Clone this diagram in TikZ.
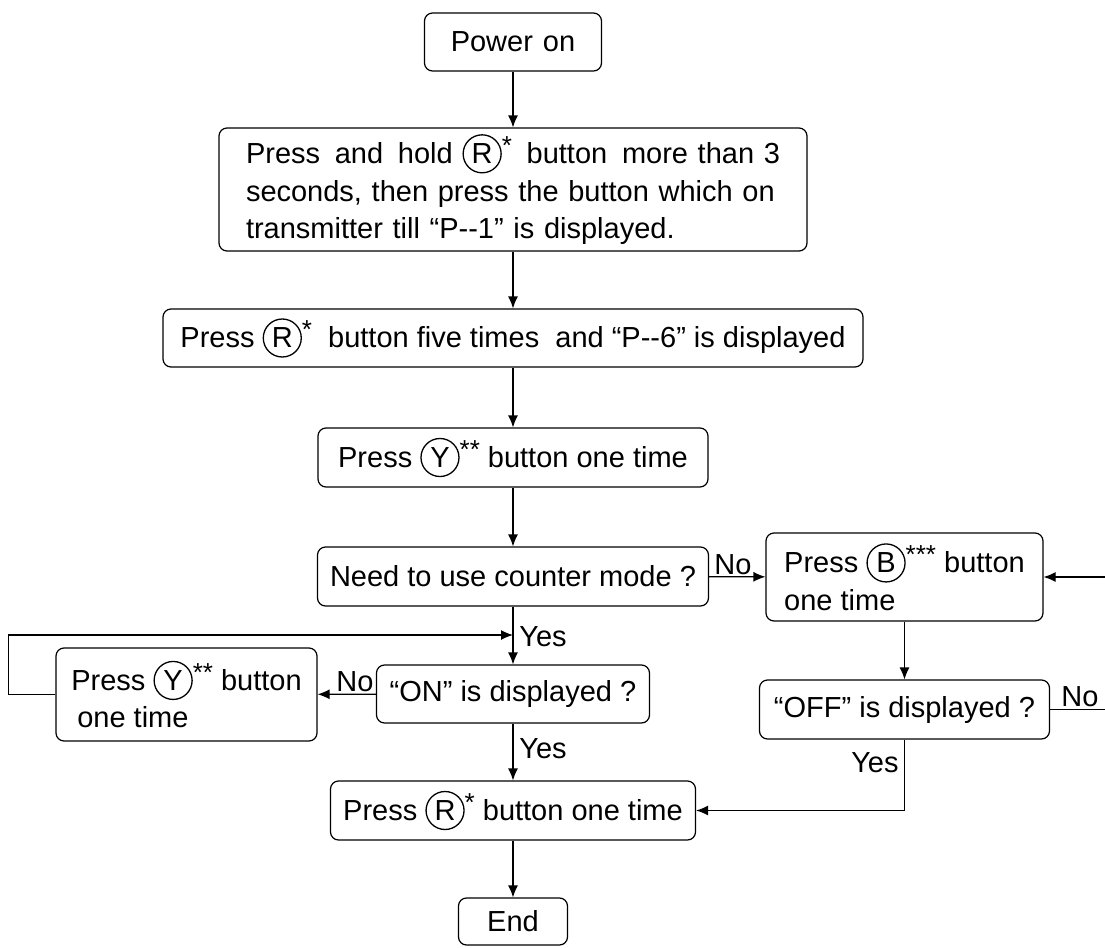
\documentclass[tikz,border=0pt]{standalone}
\usepackage{fontspec}
\setmainfont{Liberation Sans}
\usetikzlibrary{arrows.meta}

\newcommand{\btn}[1]{\tikz[baseline=(btnc.base)]\node[draw,circle,line width=0.65pt,inner sep=0pt,minimum size=19pt](btnc){#1};}
\newcommand{\stars}[1]{\raisebox{4.5pt}{\fontsize{13}{13}\selectfont #1}}

\begin{document}
\begin{tikzpicture}[x=0.5pt,y=-0.5pt,
	box/.style 2 args = {draw, rounded corners=4pt, line width=0.6pt, inner sep=0pt,
		minimum width=#1pt, minimum height=#2pt, align=center,
		font=\fontsize{14.5}{18.75}\selectfont},
	arr/.style = {line width=0.6pt, -{Latex[length=6pt,width=5pt]}},
	lbl/.style = {inner sep=1pt, font=\fontsize{14.5}{17}\selectfont}]

	\useasboundingbox (0,0) rectangle (1105,948);

	\def \mx {513}
	\def \rx {904.5}

	% main column
	\node[box={88.5}{29}] (power) at (\mx,42) {Power\hspace{5pt}on};
	\node[box={294}{61.5}, align=left, text width=267pt] (hold) at (\mx,189.5)
		{\makebox[267pt][l]{Press\hfill and\hfill hold \btn{R}\stars{*}\hfill button\hfill more than 3}\\
		 seconds, then press the button which on\\
		 transmitter till “P-{}-1” is displayed.};
	\node[box={350}{29}] (five) at (\mx,338)
		{Press \btn{R}\stars{*}\ \ button five times\ \ and “P-{}-6” is displayed};
	\node[box={195}{29.5}] (pressY) at (\mx,457.5) {Press \btn{Y}\stars{**} button one time};
	\node[box={195.5}{29.5}] (need) at (\mx,576.5) {Need to use counter mode ?};
	\node[box={136.5}{29}] (on) at (\mx,694) {“ON” is displayed ?};
	\node[box={182.5}{29.5}] (pressR) at (\mx,810.5) {Press \btn{R}\stars{*} button one time};
	\node[box={54.5}{23.5}] (end) at (\mx,921.5) {End};

	% side branches
	\node[box={130.5}{46.5}, align=left] (pressY2) at (186.5,694.5)
		{Press \btn{Y}\stars{**} button\\\hspace{3pt}one time};
	\node[box={138.5}{44}, align=left] (pressB) at (\rx,577)
		{Press \btn{B}\stars{***} button\\one time};
	\node[box={145}{29.5}] (off) at (\rx,709.5) {“OFF” is displayed ?};

	\coordinate (join) at (\mx,635);

	\draw[arr] (power) -- (hold);
	\draw[arr] (hold) -- (five);
	\draw[arr] (five) -- (pressY);
	\draw[arr] (pressY) -- (need);
	\draw[arr] (need) -- (on);
	\draw[arr] (on) -- (pressR);
	\draw[arr] (pressR) -- (end);
	\draw[arr] (need) -- (pressB);
	\draw[arr] (on) -- (pressY2);
	\draw[arr] (pressY2.west) -- ++(-47,0) |- (join);
	\draw[arr] (pressB) -- (off);
	\draw[arr] (off.east) -- (1112,709.5) |- (pressB.east);
	\draw[arr] (off.south) |- (pressR.east);

	\node[lbl, anchor=west] (yes1) at (517,637) {Yes};
	\node[lbl, anchor=west] (yes2) at (517,749) {Yes};
	\node[lbl, anchor=east] (yes3) at (901,763) {Yes};
	\node[lbl, anchor=south] (no1) at (733,577) {No};
	\node[lbl, anchor=south] (no2) at (355,694) {No};
	\node[lbl, anchor=south] (no3) at (1080,709.5) {No};
\end{tikzpicture}
\end{document}
